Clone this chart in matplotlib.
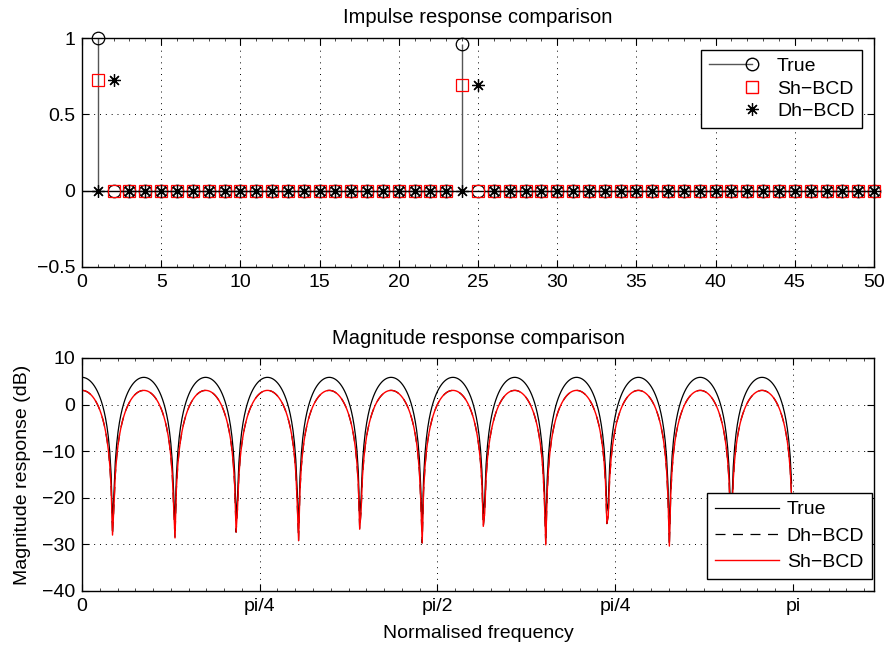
import numpy as np
import matplotlib.pyplot as plt
from matplotlib.ticker import MultipleLocator, FixedLocator, FuncFormatter
from matplotlib.legend_handler import HandlerLine2DCompound

plt.rcParams['font.family'] = ['Liberation Sans', 'DejaVu Sans']
plt.rcParams['font.size'] = 14

# impulse responses (index 1..50)
n = np.arange(1, 51)
h_true = np.zeros(50)
h_true[0] = 1.0
h_true[23] = 0.96
h_sh = np.zeros(50)
h_sh[0] = 0.725
h_sh[23] = 0.695
h_dh = np.zeros(50)
h_dh[1] = 0.725
h_dh[24] = 0.695

freq_ticks = [0, np.pi / 4, np.pi / 2, 3 * np.pi / 4, np.pi]
freq_labels = ['0', 'pi/4', 'pi/2', 'pi/4', 'pi']

ASTER = (8, 2, 0)


def freq_resp(h, npts=512):
    # same grid as freqz(h, 1, 512)
    H = np.fft.fft(h, 2 * npts)[:npts]
    w = np.pi * np.arange(npts) / npts
    return w, 20 * np.log10(np.abs(H))


class StemHandler(HandlerLine2DCompound):
    # line with the marker at its right end, like matlab's stem legend
    def get_xdata(self, legend, xdescent, ydescent, width, height, fontsize):
        xdata = np.array([-xdescent, -xdescent + width])
        return xdata, np.array([-xdescent + width])


fig = plt.figure(figsize=(8.89, 6.51), dpi=100)
ax1 = fig.add_axes([0.0922, 0.5899, 0.8910, 0.3517])
ax2 = fig.add_axes([0.0922, 0.0922, 0.8910, 0.3579])

grid_kw = dict(color='k', linestyle=(0, (1, 5)), linewidth=0.7)

# ---- top: impulse response
ax1.axhline(0, color='k', linewidth=1.0, zorder=1)
ax1.vlines(n, 0, h_true, color='#555555', linewidth=1.0, zorder=2)
ax1.plot(n, h_true, 'o', mfc='none', mec='k', ms=9, mew=0.9, zorder=3,
         clip_on=False)
ax1.plot(n, h_sh, 's', mfc='none', mec='red', ms=8, mew=0.9, zorder=4,
         clip_on=False)
ax1.plot(n, h_dh, ls='none', marker=ASTER, color='k', ms=9, mew=0.9,
         zorder=5, clip_on=False)

h1 = plt.Line2D([], [], color='#555555', lw=1.0, marker='o', mfc='none',
                mec='k', ms=9)
h2 = plt.Line2D([], [], ls='none', marker='s', mfc='none', mec='red', ms=8)
h3 = plt.Line2D([], [], ls='none', marker=ASTER, color='k', ms=9, mew=0.9)
leg1 = ax1.legend([h1, h2, h3], ['True', 'Sh\u2212BCD', 'Dh\u2212BCD'],
                  loc='upper right', numpoints=1, handlelength=2.2,
                  handler_map={h1: StemHandler(), h2: StemHandler(),
                               h3: StemHandler()},
                  fancybox=False, edgecolor='k', framealpha=1,
                  borderaxespad=0.6, handletextpad=1.3, labelspacing=0.25)
leg1.get_frame().set_linewidth(1.0)

ax1.set_xlim(0, 50)
ax1.set_ylim(-0.5, 1)
ax1.xaxis.set_major_locator(MultipleLocator(5))
ax1.xaxis.set_minor_locator(MultipleLocator(1))
ax1.yaxis.set_major_locator(MultipleLocator(0.5))
ax1.yaxis.set_major_formatter(FuncFormatter(lambda v, p: ('%g' % v).replace('-', '\u2212')))
ax1.grid(True, **grid_kw)
ax1.set_title('Impulse response comparison', fontsize=14.5, pad=11)

# ---- bottom: magnitude response
w, m_true = freq_resp(h_true)
_, m_dh = freq_resp(h_dh)
_, m_sh = freq_resp(h_sh)
ax2.plot(w, m_true, color='k', lw=0.9, label='True')
ax2.plot(w, m_dh, color='k', lw=0.9, ls=(0, (8, 6)), label='Dh\u2212BCD')
ax2.plot(w, m_sh, color='red', lw=1.0, label='Sh\u2212BCD')
leg2 = ax2.legend(loc='lower right', bbox_to_anchor=(0.9975, 0.0515),
                  handlelength=3.3, fancybox=False,
                  edgecolor='k', framealpha=1, borderaxespad=0.0,
                  handletextpad=0.4, labelspacing=0.45)
leg2.get_frame().set_linewidth(1.0)

ax2.set_xlim(0, 3.5)
ax2.set_ylim(-40, 10)
ax2.xaxis.set_major_locator(FixedLocator(freq_ticks))
ax2.set_xticklabels(freq_labels)
ax2.xaxis.set_minor_locator(MultipleLocator(np.pi / 40))
ax2.yaxis.set_major_locator(MultipleLocator(10))
ax2.grid(True, **grid_kw)
ax2.set_title('Magnitude response comparison', fontsize=14.5, pad=10)
ax2.set_xlabel('Normalised frequency', labelpad=7)
ax2.set_ylabel('Magnitude response (dB)', labelpad=8)

for ax in (ax1, ax2):
    ax.tick_params(which='both', direction='in', top=True, right=True,
                   labelsize=14, pad=5)
    ax.tick_params(which='major', length=5, width=0.8)
    ax.tick_params(which='minor', length=2.5, width=0.5)
    ax.tick_params(axis='y', which='minor', left=False, right=False)
    for s in ax.spines.values():
        s.set_linewidth(1.0)

fig.savefig('out.png', dpi=100)
